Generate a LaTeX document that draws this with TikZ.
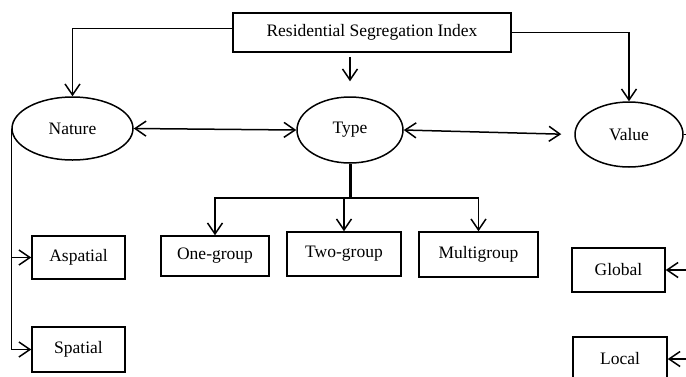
\documentclass[tikz,border=0pt]{standalone}
\usepackage{fontspec}
\setmainfont{Liberation Serif}
\usetikzlibrary{arrows.meta,shapes.geometric,positioning,calc}

\begin{document}
\begin{tikzpicture}[x=1pt,y=-1pt,
		every node/.style={font=\fontsize{17.5}{21}\selectfont},
		box/.style={draw, line width=1.5pt, rectangle, inner sep=0pt},
		oval/.style={draw, line width=1.5pt, ellipse, inner sep=0pt},
		link/.style={line width=1.5pt},
		arr/.style={link, -{Straight Barb[length=11pt,width=15pt,line width=1.5pt]}},
		dbl/.style={link, {Straight Barb[length=11pt,width=15pt,line width=1.5pt]}-{Straight Barb[length=11pt,width=15pt,line width=1.5pt]}}]
		\useasboundingbox (0,0) rectangle (686,376);
		\clip (0,0) rectangle (686,376);

		\node[box, minimum width=278pt, minimum height=39pt] (title) at (372,32.5) {Residential Segregation Index};

		\node[oval, minimum width=121pt, minimum height=63pt] (nature) at (72.5,128.5) {Nature};
		\node[oval, minimum width=106pt, minimum height=66pt] (type) at (350,130) {Type};
		\node[oval, minimum width=108pt, minimum height=65pt] (value) at (629,134.5) {Value};

		\node[box, minimum width=93pt, minimum height=43pt] (aspatial) at (78.5,257.5) {Aspatial};
		\node[box, minimum width=93pt, minimum height=45pt] (spatial) at (78.5,349.5) {Spatial};

		\node[box, minimum width=108pt, minimum height=40pt] (onegroup) at (215,256) {One-group};
		\node[box, minimum width=114pt, minimum height=44pt] (twogroup) at (344,254) {Two-group};
		\node[box, minimum width=119pt, minimum height=45pt] (multigroup) at (478.5,254.5) {Multigroup};

		\node[box, minimum width=93pt, minimum height=44pt] (global) at (618.5,270) {Global};
		\node[box, minimum width=94pt, minimum height=44pt] (local) at (620,359) {Local};

		\draw[arr] ([yshift=4pt]title.west) -| (nature.north);
		\draw[arr] (title.east) -| (value.north);
		\draw[arr, shorten <=4pt, shorten >=15pt] (title.south -| type.north) -- (type.north);

		\draw[dbl] (nature.east) -- (type.west);
		\draw[dbl, shorten >=13pt] (type.east) -- (value.west);

		\draw[arr] (nature.west) |- (spatial.west);
		\draw[arr] (nature.west |- aspatial.west) -- (aspatial.west);

		\draw[line width=3pt] (type.south) -- ++(0,34) coordinate (tb);
		\draw[arr] (tb) -| (onegroup.north);
		\draw[arr] (tb) -| (multigroup.north);
		\draw[arr] (tb -| twogroup.north) -- (twogroup.north);

		\coordinate (vr) at (700,0);
		\draw[link] (value.east) -- (value.east -| vr);
		\draw[arr] (global.east -| vr) -- (global.east);
		\draw[arr] (local.east -| vr) -- (local.east);
	\end{tikzpicture}
\end{document}
